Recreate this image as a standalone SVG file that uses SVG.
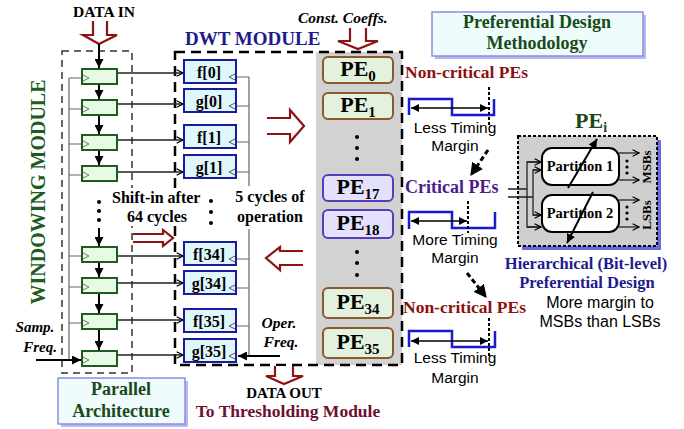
<svg xmlns="http://www.w3.org/2000/svg" width="684" height="429" viewBox="0 0 684 429">
<defs>
<style>
.sb{font-family:'Liberation Serif','Times New Roman',serif;font-weight:bold}
.si{font-family:'Liberation Serif','Times New Roman',serif;font-weight:bold;font-style:italic}
.sans{font-family:'Liberation Sans',Arial,sans-serif}
.reg{fill:#e6fae6;stroke:#1f5a1f;stroke-width:2}
.rclk{fill:none;stroke:#777;stroke-width:1}
.fg{fill:#dff7fb;stroke:#1a1a9e;stroke-width:2}
.fclk{fill:none;stroke:#555;stroke-width:1}
.peg{fill:#e3f2de;stroke:#8a5a2c;stroke-width:2}
.pep{fill:#e3e1fb;stroke:#5a3cba;stroke-width:2}
.hol{fill:#fff;stroke:#8c1414;stroke-width:2.2}
.wave{fill:none;stroke:#1a1ad0;stroke-width:2.5}
.wire{fill:none;stroke:#222;stroke-width:1.3}
.gw{fill:none;stroke:#666;stroke-width:1.2}
.blk{fill:none;stroke:#000;stroke-width:2}
.dotl{fill:none;stroke:#000;stroke-width:2;stroke-dasharray:3 2}
.dsh{fill:none;stroke:#000;stroke-width:3;stroke-dasharray:5 3}
.part{fill:#fff;stroke:#000;stroke-width:2}
.note{fill:#eefcfc;stroke:#8c8ce0;stroke-width:1.5}
.shd{fill:#b8b8ee}
</style>
<marker id="ah" viewBox="0 0 10 10" refX="10" refY="5" markerWidth="9" markerHeight="9" markerUnits="userSpaceOnUse" orient="auto"><path d="M0,0 L10,5 L0,10 z" fill="#000"/></marker>
<marker id="ahd" viewBox="0 0 10 10" refX="10" refY="5" markerWidth="8" markerHeight="8" markerUnits="userSpaceOnUse" orient="auto-start-reverse"><path d="M0,0 L10,5 L0,10 z" fill="#000"/></marker>
<marker id="ahb" viewBox="0 0 10 10" refX="9" refY="5" markerWidth="13" markerHeight="13" markerUnits="userSpaceOnUse" orient="auto"><path d="M0,0 L10,5 L0,10 z" fill="#000"/></marker>
<marker id="oa" viewBox="0 0 10 10" refX="9" refY="5" markerWidth="8" markerHeight="8" markerUnits="userSpaceOnUse" orient="auto"><path d="M1,1 L9,5 L1,9" fill="none" stroke="#000" stroke-width="1.5"/></marker>
</defs>

<!-- backgrounds -->
<rect x="316" y="52" width="86" height="313" fill="#d2d2d2"/>
<rect x="62" y="51" width="70" height="322" fill="none" stroke="#333" stroke-width="1.5" stroke-dasharray="7 5"/>
<rect x="175" y="52" width="227" height="313" fill="none" stroke="#000" stroke-width="2.5" stroke-dasharray="10 6"/>

<!-- connectors -->
<g id="connectors">
  <path class="hol" d="M93,21 V35 H83 L99,44 L117,35 H107 V21"/>
  <path class="blk" d="M99,44 V68" marker-end="url(#ah)"/>
  <path class="blk" d="M99,84 V99" marker-end="url(#ah)"/>
  <path class="blk" d="M99,115 V134" marker-end="url(#ah)"/>
  <path class="blk" d="M99,150 V165" marker-end="url(#ah)"/>
  <path class="blk" d="M99,228 V246" marker-end="url(#ah)"/>
  <path class="blk" d="M99,262 V277" marker-end="url(#ah)"/>
  <path class="blk" d="M99,293 V313" marker-end="url(#ah)"/>
  <path class="blk" d="M99,329 V350" marker-end="url(#ah)"/>
  <path class="gw" d="M69,78 V360 M69,78 H83 M69,109 H83 M69,144 H83 M69,175 H83 M69,256 H83 M69,287 H83 M69,323 H83"/>
  <path class="blk" d="M36,360 H81" marker-end="url(#ah)"/>
  <path class="wire" d="M117,73 H183" marker-end="url(#oa)"/>
  <path class="wire" d="M117,104 H183" marker-end="url(#oa)"/>
  <path class="wire" d="M117,140 H183" marker-end="url(#oa)"/>
  <path class="wire" d="M117,172 H183" marker-end="url(#oa)"/>
  <path class="wire" d="M117,256 H183" marker-end="url(#oa)"/>
  <path class="wire" d="M117,283 H183" marker-end="url(#oa)"/>
  <path class="wire" d="M117,320 H183" marker-end="url(#oa)"/>
  <path class="wire" d="M117,355 H183" marker-end="url(#oa)"/>
  <path class="gw" d="M249,77 V186 M249,229 V356 M236,77 H249 M236,106 H249 M236,142 H249 M236,172 H249 M236,259 H249 M236,288 H249 M236,326 H249"/>
  <path class="blk" d="M280,356 H238" marker-end="url(#ah)"/>
  <path class="hol" d="M133,234 H163 V230 L173,238 L163,246 V242 H133"/>
  <path class="hol" d="M267,118 H290 V110 L304,126 L290,142 V134 H267"/>
  <path class="hol" d="M303,251 H280 V247 L266,258 L280,270 V265 H303"/>
  <path class="hol" d="M350,28 V41 H338 L358,49 L378,41 H366 V28"/>
  <path class="hol" d="M275,366 V376 H266 L284,384 L303,376 H293 V366"/>
  <path class="dsh" d="M488,150 L471,175" marker-end="url(#ahb)"/>
  <path class="dsh" d="M467,273 L486,297" marker-end="url(#ahb)"/>
</g>

<!-- windowing registers -->
<g id="reg1"><rect class="reg" x="82" y="69" width="35" height="15"/><path class="rclk" d="M83,75 L89,78 L83,81"/></g>
<g id="reg2"><rect class="reg" x="82" y="100" width="35" height="15"/><path class="rclk" d="M83,106 L89,109 L83,112"/></g>
<g id="reg3"><rect class="reg" x="82" y="135" width="35" height="15"/><path class="rclk" d="M83,141 L89,144 L83,147"/></g>
<g id="reg4"><rect class="reg" x="82" y="166" width="35" height="15"/><path class="rclk" d="M83,172 L89,175 L83,178"/></g>
<g id="reg5"><rect class="reg" x="82" y="247" width="35" height="15"/><path class="rclk" d="M83,253 L89,256 L83,259"/></g>
<g id="reg6"><rect class="reg" x="82" y="278" width="35" height="15"/><path class="rclk" d="M83,284 L89,287 L83,290"/></g>
<g id="reg7"><rect class="reg" x="82" y="314" width="35" height="15"/><path class="rclk" d="M83,320 L89,323 L83,326"/></g>
<g id="reg8"><rect class="reg" x="82" y="351" width="35" height="15"/><path class="rclk" d="M83,357 L89,360 L83,363"/></g>
<g id="regdots"><circle cx="99" cy="202" r="2"/><circle cx="99" cy="211" r="2"/><circle cx="99" cy="220" r="2"/></g>

<!-- coefficient boxes -->
<g id="f0"><rect class="fg" x="184" y="60" width="52" height="23"/><path class="fclk" d="M235,74 L229,77 L235,80"/><text class="sb" x="209" y="77.5" font-size="16" text-anchor="middle">f[0]</text></g>
<g id="g0"><rect class="fg" x="184" y="89" width="52" height="23"/><path class="fclk" d="M235,103 L229,106 L235,109"/><text class="sb" x="209" y="106.5" font-size="16" text-anchor="middle">g[0]</text></g>
<g id="f1"><rect class="fg" x="184" y="125" width="52" height="23"/><path class="fclk" d="M235,139 L229,142 L235,145"/><text class="sb" x="209" y="142.5" font-size="16" text-anchor="middle">f[1]</text></g>
<g id="g1"><rect class="fg" x="184" y="155" width="52" height="23"/><path class="fclk" d="M235,169 L229,172 L235,175"/><text class="sb" x="209" y="172.5" font-size="16" text-anchor="middle">g[1]</text></g>
<g id="f34"><rect class="fg" x="184" y="242" width="52" height="23"/><path class="fclk" d="M235,256 L229,259 L235,262"/><text class="sb" x="209" y="259.5" font-size="16" text-anchor="middle">f[34]</text></g>
<g id="g34"><rect class="fg" x="184" y="271" width="52" height="23"/><path class="fclk" d="M235,285 L229,288 L235,291"/><text class="sb" x="209" y="288.5" font-size="16" text-anchor="middle">g[34]</text></g>
<g id="f35"><rect class="fg" x="184" y="309" width="52" height="23"/><path class="fclk" d="M235,323 L229,326 L235,329"/><text class="sb" x="209" y="326.5" font-size="16" text-anchor="middle">f[35]</text></g>
<g id="g35"><rect class="fg" x="184" y="339" width="52" height="23"/><path class="fclk" d="M235,353 L229,356 L235,359"/><text class="sb" x="209" y="356.5" font-size="16" text-anchor="middle">g[35]</text></g>
<g id="fgdots"><circle cx="211" cy="201" r="2"/><circle cx="211" cy="212" r="2"/><circle cx="211" cy="223" r="2"/></g>

<!-- PEs -->
<g id="pe0"><rect class="peg" x="323" y="57" width="70" height="26" rx="5"/><text class="sb" x="358" y="76" font-size="22" text-anchor="middle">PE<tspan font-size="15" dy="5">0</tspan></text></g>
<g id="pe1"><rect class="peg" x="323" y="93" width="70" height="26" rx="5"/><text class="sb" x="358" y="112" font-size="22" text-anchor="middle">PE<tspan font-size="15" dy="5">1</tspan></text></g>
<g id="pe17"><rect class="pep" x="323" y="175" width="70" height="26" rx="5"/><text class="sb" x="358" y="194" font-size="22" text-anchor="middle">PE<tspan font-size="15" dy="5">17</tspan></text></g>
<g id="pe18"><rect class="pep" x="323" y="210" width="70" height="28" rx="5"/><text class="sb" x="358" y="230" font-size="22" text-anchor="middle">PE<tspan font-size="15" dy="5">18</tspan></text></g>
<g id="pe34"><rect class="peg" x="323" y="288" width="70" height="30" rx="5"/><text class="sb" x="358" y="309" font-size="22" text-anchor="middle">PE<tspan font-size="15" dy="5">34</tspan></text></g>
<g id="pe35"><rect class="peg" x="323" y="328" width="70" height="30" rx="5"/><text class="sb" x="358" y="349" font-size="22" text-anchor="middle">PE<tspan font-size="15" dy="5">35</tspan></text></g>
<g id="pedots"><circle cx="357" cy="137" r="2"/><circle cx="357" cy="148" r="2"/><circle cx="357" cy="159" r="2"/><circle cx="357" cy="252" r="2"/><circle cx="357" cy="263" r="2"/><circle cx="357" cy="275" r="2"/></g>

<!-- labels left -->
<text class="sb" x="104" y="17" font-size="15.5" text-anchor="middle">DATA IN</text>
<text class="sb" transform="translate(45,192) rotate(-90)" font-size="20" fill="#1e5c1e" text-anchor="middle">WINDOWING MODULE</text>
<text class="si" x="35" y="332" font-size="15" text-anchor="middle">Samp.</text>
<text class="si" x="40" y="352" font-size="15" text-anchor="middle">Freq.</text>
<g id="parallel"><rect class="shd" x="61" y="381" width="127" height="46"/><rect class="note" x="58" y="378" width="127" height="46"/>
<text class="sb" x="121" y="395" font-size="18" fill="#1a4a1a" text-anchor="middle">Parallel</text>
<text class="sb" x="121" y="417" font-size="18" fill="#1a4a1a" text-anchor="middle">Architecture</text></g>
<rect x="110" y="188" width="98" height="38" fill="#fff"/>
<text class="sb" x="112" y="203" font-size="16">Shift-in after</text>
<text class="sb" x="127" y="222" font-size="16">64 cycles</text>
<rect x="231" y="188" width="78" height="40" fill="#fff"/>
<text class="sb" x="270" y="202" font-size="16" text-anchor="middle">5 cycles of</text>
<text class="sb" x="270" y="222" font-size="16" text-anchor="middle">operation</text>
<text class="si" x="279" y="328" font-size="15.5" text-anchor="middle">Oper.</text>
<text class="si" x="281" y="347" font-size="15.5" text-anchor="middle">Freq.</text>
<text class="sb" x="185" y="45" font-size="19" fill="#1c1c8c">DWT MODULE</text>
<text class="si" x="298" y="23" font-size="15.5">Const. Coeffs.</text>
<text class="sb" x="284" y="398" font-size="15" text-anchor="middle">DATA OUT</text>
<text class="sb" x="288" y="417" font-size="17.5" fill="#6e1030" text-anchor="middle">To Thresholding Module</text>

<!-- timing -->
<g id="timing1">
<text class="sb" x="405" y="78" font-size="17.5" fill="#8b1010">Non-critical PEs</text>
<path class="wave" d="M409,115 V99 H452 V115 H494 V99"/>
<path class="dotl" d="M489,87 V125"/>
<path fill="none" stroke="#000" stroke-width="1.3" d="M411,108 H488" marker-start="url(#ahd)" marker-end="url(#ahd)"/>
<text class="sans" x="455" y="133" font-size="15.5" text-anchor="middle">Less Timing</text>
<text class="sans" x="455" y="151" font-size="15.5" text-anchor="middle">Margin</text>
</g>
<g id="timing2">
<text class="sb" x="405" y="193" font-size="18" fill="#4b1c8c">Critical PEs</text>
<path class="wave" d="M409,229 V212 H452 V228 H495 V212"/>
<path class="dotl" d="M468,201 V233"/>
<path fill="none" stroke="#000" stroke-width="1.3" d="M411,221 H467" marker-start="url(#ahd)" marker-end="url(#ahd)"/>
<text class="sans" x="455" y="245" font-size="15.5" text-anchor="middle">More Timing</text>
<text class="sans" x="455" y="263" font-size="15.5" text-anchor="middle">Margin</text>
</g>
<g id="timing3">
<text class="sb" x="403" y="313" font-size="17.5" fill="#8b1010">Non-critical PEs</text>
<path class="wave" d="M409,347 V331 H452 V347 H495 V331"/>
<path class="dotl" d="M489,318 V356"/>
<path fill="none" stroke="#000" stroke-width="1.3" d="M411,341 H488" marker-start="url(#ahd)" marker-end="url(#ahd)"/>
<text class="sans" x="455" y="363" font-size="15.5" text-anchor="middle">Less Timing</text>
<text class="sans" x="455" y="383" font-size="15.5" text-anchor="middle">Margin</text>
</g>

<!-- preferential methodology -->
<g id="methodology"><rect class="shd" x="435" y="15" width="211" height="44"/><rect class="note" x="432" y="12" width="211" height="44"/>
<text class="sb" x="537" y="28" font-size="18" fill="#1a4a1a" text-anchor="middle">Preferential Design</text>
<text class="sb" x="537" y="49" font-size="18" fill="#1a4a1a" text-anchor="middle">Methodology</text></g>

<!-- PE_i detail -->
<g id="pei">
<text class="sb" x="575" y="128" font-size="22" fill="#1a4a1a">PE<tspan font-size="14" dy="4">i</tspan></text>
<rect x="522" y="140" width="139" height="110" fill="#6a6ae2"/>
<rect x="518" y="136" width="139" height="110" fill="#cfcfcf" stroke="#000" stroke-width="2" stroke-dasharray="3 2"/>
<path class="wire" d="M508,189 H527 V162 H541 M527,189 V227 H541 M508,197 H533 V170 H541 M533,197 V215 H541" />
<path class="wire" d="M533,170 H541" marker-end="url(#oa)"/>
<path class="wire" d="M527,162 H541" marker-end="url(#oa)"/>
<path class="wire" d="M533,215 H541" marker-end="url(#oa)"/>
<path class="wire" d="M527,227 H541" marker-end="url(#oa)"/>
<g id="partition1"><rect class="part" x="542" y="148" width="77" height="37" rx="10"/><text class="sb" x="580" y="171" font-size="14.5" text-anchor="middle">Partition 1</text></g>
<g id="partition2"><rect class="part" x="542" y="195" width="77" height="37" rx="10"/><text class="sb" x="580" y="218" font-size="14.5" text-anchor="middle">Partition 2</text></g>
<path class="wire" d="M619,153 H639" marker-end="url(#oa)"/>
<path class="wire" d="M619,180 H639" marker-end="url(#oa)"/>
<path class="wire" d="M619,200 H639" marker-end="url(#oa)"/>
<path class="wire" d="M619,227 H639" marker-end="url(#oa)"/>
<circle cx="627" cy="161" r="1.6"/><circle cx="627" cy="167" r="1.6"/><circle cx="627" cy="173" r="1.6"/>
<circle cx="627" cy="207" r="1.6"/><circle cx="627" cy="213" r="1.6"/><circle cx="627" cy="219" r="1.6"/>
<text class="sb" transform="translate(651,167) rotate(-90)" font-size="13" text-anchor="middle">MSBs</text>
<text class="sb" transform="translate(651,215) rotate(-90)" font-size="13" text-anchor="middle">LSBs</text>
<path class="blk" d="M568,188 L597,139" marker-end="url(#ah)"/>
<path class="blk" d="M593,192 L567,243" marker-end="url(#ah)"/>
</g>
<text class="sb" x="586" y="269" font-size="16.5" fill="#1c1c8c" text-anchor="middle">Hierarchical (Bit-level)</text>
<text class="sb" x="587" y="288" font-size="16.5" fill="#1c1c8c" text-anchor="middle">Preferential Design</text>
<text class="sans" x="600" y="308" font-size="16" text-anchor="middle">More margin to</text>
<text class="sans" x="600" y="327" font-size="16" text-anchor="middle">MSBs than LSBs</text>
</svg>
